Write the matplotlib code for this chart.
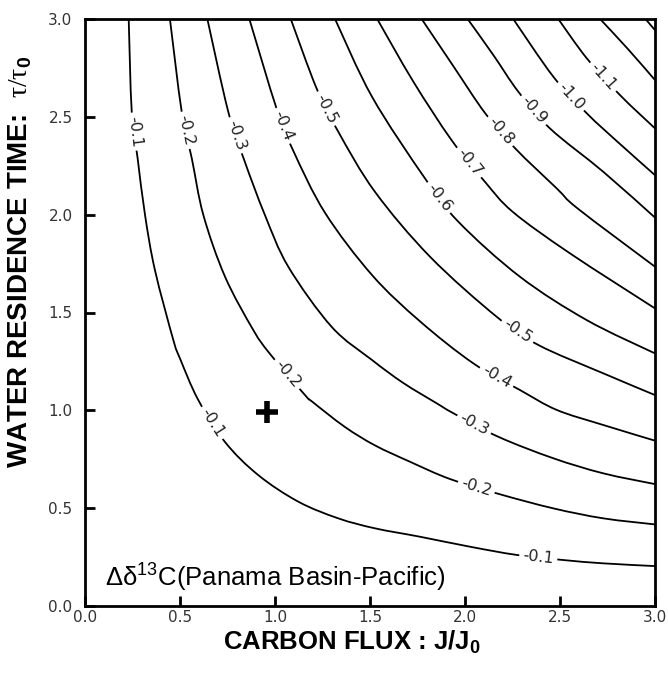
import numpy as np
import matplotlib
matplotlib.use('Agg')
from matplotlib import pyplot as plt
from matplotlib import font_manager
from matplotlib.path import Path
from matplotlib.patches import PathPatch
from matplotlib.ticker import FormatStrFormatter

# contour lines (J/J0, tau/tau0)
c01_x = [0.230, 0.246, 0.277, 0.316, 0.368, 0.465, 0.500, 0.595, 0.737, 0.912, 1.123, 1.333, 1.526, 1.763, 2.026, 2.272, 2.517, 2.728, 3.0]
c01_y = [3.0, 2.526, 2.288, 1.998, 1.717, 1.359, 1.265, 1.055, 0.838, 0.669, 0.533, 0.448, 0.397, 0.354, 0.303, 0.261, 0.235, 0.218, 0.204]
c02_x = [0.447, 0.509, 0.562, 0.623, 0.737, 0.886, 0.974, 1.158, 1.195, 1.368, 1.526, 1.711, 1.921, 2.184, 2.465, 2.728, 3.0]
c02_y = [3.0, 2.526, 2.288, 1.998, 1.683, 1.410, 1.288, 1.078, 1.045, 0.915, 0.821, 0.737, 0.649, 0.571, 0.499, 0.448, 0.417]
c03_x = [0.644, 0.754, 0.838, 0.947, 1.070, 1.298, 1.511, 1.675, 1.851, 1.939, 2.175, 2.465, 2.728, 3.0]
c03_y = [3.0, 2.526, 2.279, 1.998, 1.734, 1.427, 1.257, 1.140, 1.036, 0.985, 0.865, 0.755, 0.678, 0.623]
c04_x = [0.865, 1.009, 1.096, 1.263, 1.511, 1.763, 2.044, 2.289, 2.483, 2.728, 3.0]
c04_y = [3.0, 2.540, 2.327, 2.010, 1.691, 1.455, 1.240, 1.104, 1.002, 0.925, 0.845]
c05_x = [1.083, 1.219, 1.333, 1.526, 1.816, 2.167, 2.386, 2.728, 3.0]
c05_y = [3.0, 2.645, 2.424, 2.117, 1.785, 1.478, 1.334, 1.189, 1.078]
c06_x = [1.316, 1.511, 1.789, 1.965, 2.289, 2.641, 3.0]
c06_y = [3.0, 2.602, 2.186, 1.964, 1.683, 1.461, 1.291]
c07_x = [1.538, 1.728, 1.930, 2.105, 2.253, 2.553, 3.0]
c07_y = [3.0, 2.680, 2.380, 2.168, 2.013, 1.802, 1.521]
c08_x = [1.772, 1.938, 2.105, 2.263, 2.483, 2.595, 3.0]
c08_y = [3.0, 2.760, 2.520, 2.340, 2.134, 2.030, 1.734]
c09_x = [2.014, 2.149, 2.281, 2.447, 2.728, 3.0]
c09_y = [3.0, 2.816, 2.628, 2.441, 2.219, 1.985]
c10_x = [2.254, 2.465, 2.641, 2.816, 3.0]
c10_y = [3.0, 2.705, 2.518, 2.361, 2.202]
c11_x = [2.491, 2.641, 2.816, 3.0]
c11_y = [3.0, 2.799, 2.611, 2.441]
c12_x = [2.711, 2.858, 3.0]
c12_y = [3.0, 2.846, 2.688]
c13_x = [2.95, 3.0]
c13_y = [3.0, 2.943]

levels = [-0.1, -0.2, -0.3, -0.4, -0.5, -0.6, -0.7, -0.8, -0.9, -1.0, -1.1, -1.2, -1.3]
curves = [(c01_x, c01_y), (c02_x, c02_y), (c03_x, c03_y), (c04_x, c04_y),
          (c05_x, c05_y), (c06_x, c06_y), (c07_x, c07_y), (c08_x, c08_y),
          (c09_x, c09_y), (c10_x, c10_y), (c11_x, c11_y), (c12_x, c12_y),
          (c13_x, c13_y)]

# inline labels: level and rough position
label_lev = [-0.1, -0.2, -0.3, -0.4, -0.5, -0.6, -0.7, -0.8, -0.9, -1.0, -1.1,
             -0.1, -0.2, -0.5, -0.4, -0.3, -0.2, -0.1]
label_x = [0.254, 0.535, 0.798, 1.053, 1.272, 1.868, 2.026, 2.184, 2.356, 2.562, 2.728,
           0.667, 1.07, 2.281, 2.167, 2.044, 2.058, 2.386]
label_y = [2.424, 2.432, 2.407, 2.458, 2.543, 2.091, 2.27, 2.424, 2.529, 2.608, 2.705,
           0.934, 1.189, 1.41, 1.172, 0.921, 0.601, 0.25]

plus_x, plus_y = 0.96, 0.99
ticks = [0.0, 0.5, 1.0, 1.5, 2.0, 2.5, 3.0]

names = {f.name for f in font_manager.fontManager.ttflist}
bold_font = 'Liberation Sans Narrow' if 'Liberation Sans Narrow' in names else 'Liberation Sans'
plt.rcParams['mathtext.fontset'] = 'custom'
plt.rcParams['mathtext.rm'] = 'Liberation Serif'
plt.rcParams['mathtext.bf'] = bold_font + ':bold'
plt.rcParams['mathtext.sf'] = 'Liberation Sans'

fig = plt.figure(figsize=(6.68, 6.76), dpi=100)
ax = fig.add_axes([85 / 668, 1 - 606 / 676, 570 / 668, 587 / 676])
ax.set_xlim(0, 3)
ax.set_ylim(0, 3)


def smooth_path(xs, ys):
    # draw the traced line as a smooth curve through the read points
    pts = np.column_stack([xs, ys])
    verts = [pts[0]]
    codes = [Path.MOVETO]
    n = len(pts)
    for i in range(n - 1):
        p0 = pts[i - 1] if i > 0 else pts[i]
        p1, p2 = pts[i], pts[i + 1]
        p3 = pts[i + 2] if i + 2 < n else pts[i + 1]
        verts += [p1 + (p2 - p0) / 6, p2 - (p3 - p1) / 6, p2]
        codes += [Path.CURVE4] * 3
    return Path(verts, codes)


for (cx, cy) in curves:
    ax.add_patch(PathPatch(smooth_path(cx, cy), fc='none', ec='black', lw=1.3, zorder=2))


def place_label(xs, ys, lx, ly, text):
    pts = ax.transData.transform(np.column_stack([xs, ys]))
    p = ax.transData.transform((lx, ly))
    best = None
    for i in range(len(pts) - 1):
        a, b = pts[i], pts[i + 1]
        d = b - a
        t = np.clip(np.dot(p - a, d) / np.dot(d, d), 0, 1)
        q = a + t * d
        dist = np.hypot(*(p - q))
        if best is None or dist < best[0]:
            best = (dist, q, d)
    _, q, d = best
    ang = np.degrees(np.arctan2(d[1], d[0]))
    if ang > 90:
        ang -= 180
    if ang < -90:
        ang += 180
    x, y = ax.transData.inverted().transform(q)
    ax.text(x, y, text, rotation=ang, rotation_mode='anchor', ha='center', va='center',
            fontsize=11.5, family='DejaVu Sans', color='#222222', zorder=3,
            bbox=dict(fc='white', ec='none', pad=2.5))


for lev, lx, ly in zip(label_lev, label_x, label_y):
    k = levels.index(lev)
    place_label(curves[k][0], curves[k][1], lx, ly, '%.1f' % lev)

ax.plot([plus_x], [plus_y], marker='+', ms=16, mew=4, color='black', zorder=4)

ax.set_xticks(ticks)
ax.set_yticks(ticks)
ax.xaxis.set_major_formatter(FormatStrFormatter('%.1f'))
ax.yaxis.set_major_formatter(FormatStrFormatter('%.1f'))
ax.tick_params(direction='in', length=7, width=2, labelsize=11, labelcolor='#333333')
ax.tick_params(axis='x', pad=3)
ax.tick_params(axis='y', pad=9)
for s in ax.spines.values():
    s.set_linewidth(2)

ax.text(0.035, 0.034, r'$\mathsf{\Delta\delta}^{\mathsf{13}}$C(Panama Basin-Pacific)',
        transform=ax.transAxes, family='Liberation Sans', fontsize=18.5, va='baseline', ha='left')

fig.text(0.527, 1 - 650 / 676, r'CARBON FLUX : J/J$_{\mathbf{0}}$', family=bold_font,
         fontweight='bold', fontsize=18.5, ha='center', va='baseline')
fig.text(0.03, 1 - 262 / 676, r'WATER RESIDENCE TIME:  $\mathrm{\tau/\tau}_{\mathbf{0}}$',
         family=bold_font, fontweight='bold', fontsize=20, rotation=90, ha='center', va='center')

fig.savefig('out.png', dpi=100)
